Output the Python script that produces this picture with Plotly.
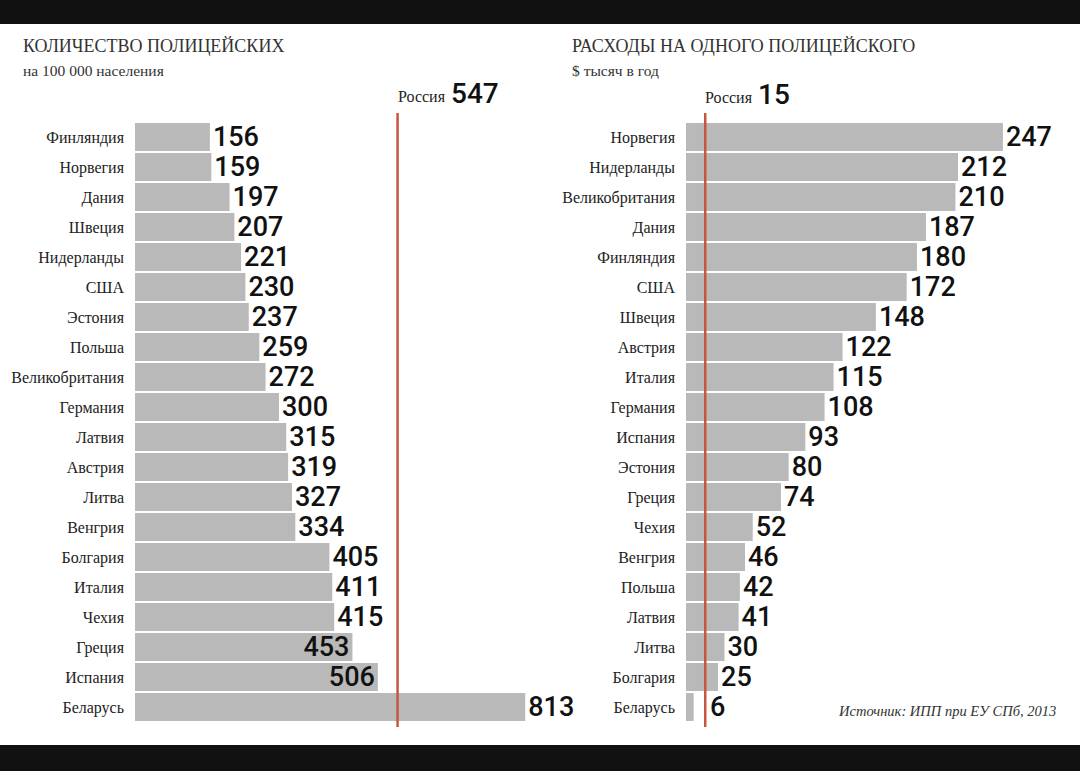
import plotly.graph_objects as go

# ---------------- data ----------------
left_countries = ["Финляндия", "Норвегия", "Дания", "Швеция", "Нидерланды", "США", "Эстония",
                  "Польша", "Великобритания", "Германия", "Латвия", "Австрия", "Литва", "Венгрия",
                  "Болгария", "Италия", "Чехия", "Греция", "Испания", "Беларусь"]
left_values = [156, 159, 197, 207, 221, 230, 237, 259, 272, 300, 315, 319, 327, 334,
               405, 411, 415, 453, 506, 813]

right_countries = ["Норвегия", "Нидерланды", "Великобритания", "Дания", "Финляндия", "США", "Швеция",
                   "Австрия", "Италия", "Германия", "Испания", "Эстония", "Греция", "Чехия",
                   "Венгрия", "Польша", "Латвия", "Литва", "Болгария", "Беларусь"]
right_values = [247, 212, 210, 187, 180, 172, 148, 122, 115, 108, 93, 80, 74, 52,
                46, 42, 41, 30, 25, 6]

russia_police = 547
russia_spend = 15

left_title = "КОЛИЧЕСТВО ПОЛИЦЕЙСКИХ"
left_sub = "на 100 000 населения"
right_title = "РАСХОДЫ НА ОДНОГО ПОЛИЦЕЙСКОГО"
right_sub = "$ тысяч в год"
russia_label = "Россия"
source = "Источник: ИПП при ЕУ СПб, 2013"

# ---------------- layout helpers ----------------
W, H = 1080, 771
def px(x):
    return x / W
def py(y):
    return 1 - y / H

BAR = "#b9b9b9"
RED = "#c8553d"
SERIF = "Liberation Serif"
NUM = "Roboto"

INSIDE_LEFT = {453, 506}

def positions(vals, inside_set):
    return ["inside" if v in inside_set else "outside" for v in vals]

def labels(vals, line_val=None):
    out = []
    for v in vals:
        s = str(v)
        if line_val is not None and v < line_val:
            s = "\u00a0\u00a0" + s  # push past the Russia line
        out.append(s)
    return out

fig = go.Figure()

fig.add_trace(go.Bar(
    y=left_countries, x=left_values, orientation="h",
    marker=dict(color=BAR, line=dict(width=0)),
    text=labels(left_values),
    textposition=positions(left_values, INSIDE_LEFT),
    insidetextanchor="end",
    constraintext="none",
    textfont=dict(family=NUM, size=27, color="#111", weight=500),
    cliponaxis=False, xaxis="x", yaxis="y", showlegend=False,
))
fig.add_trace(go.Bar(
    y=right_countries, x=right_values, orientation="h",
    marker=dict(color=BAR, line=dict(width=0)),
    text=labels(right_values, russia_spend),
    textposition="outside",
    constraintext="none",
    textfont=dict(family=NUM, size=27, color="#111", weight=500),
    cliponaxis=False, xaxis="x2", yaxis="y2", showlegend=False,
))

ydom = [py(722), py(122)]
axis_common = dict(showgrid=False, zeroline=False, showline=False, showticklabels=False, ticks="")
yaxis_common = dict(showgrid=False, zeroline=False, showline=False, ticks="",
                    autorange="reversed", domain=ydom,
                    tickfont=dict(family=SERIF, size=16, color="#222"),
                    ticklabelstandoff=10)

fig.update_layout(
    width=W, height=H,
    margin=dict(l=0, r=0, t=0, b=0),
    paper_bgcolor="white", plot_bgcolor="rgba(0,0,0,0)",
    bargap=0.07,
    hovermode=False,
    xaxis=dict(domain=[px(135), px(545)], range=[0, 410 / 0.48], anchor="y", **axis_common),
    yaxis=dict(anchor="x", **yaxis_common),
    xaxis2=dict(domain=[px(686), px(1040)], range=[0, 354 / 1.283], anchor="y2", **axis_common),
    yaxis2=dict(anchor="x2", **yaxis_common),
)

# red reference lines
fig.add_shape(type="line", xref="x", yref="paper", x0=russia_police, x1=russia_police,
              y0=py(727), y1=py(113), line=dict(color=RED, width=2.5))
fig.add_shape(type="line", xref="x2", yref="paper", x0=russia_spend, x1=russia_spend,
              y0=py(727), y1=py(113), line=dict(color=RED, width=2.5))

# black letterbox bands
fig.add_shape(type="rect", xref="paper", yref="paper", x0=0, x1=1, y0=py(24), y1=1,
              fillcolor="#111111", line=dict(width=0), layer="above")
fig.add_shape(type="rect", xref="paper", yref="paper", x0=0, x1=1, y0=0, y1=py(745),
              fillcolor="#111111", line=dict(width=0), layer="above")

ann = []
def text(x, y, t, size, family=SERIF, xanchor="left", color="#333", weight=None, italic=False):
    f = dict(family=family, size=size, color=color)
    if weight:
        f["weight"] = weight
    if italic:
        f["style"] = "italic"
    ann.append(dict(xref="paper", yref="paper", x=px(x), y=py(y), text=t, showarrow=False,
                    xanchor=xanchor, yanchor="middle", font=f))

text(21, 46, left_title, 18)
text(21, 70, left_sub, 15.5)
text(570, 46, right_title, 18)
text(570, 70, right_sub, 15.5)

text(396, 96, russia_label, 16, color="#222")
text(449, 93, str(russia_police), 28, family=NUM, color="#111", weight=500)
text(703, 97, russia_label, 16, color="#222")
text(756, 94, str(russia_spend), 28, family=NUM, color="#111", weight=500)

text(1058, 711, source, 14.5, xanchor="right", color="#333", italic=True)

fig.update_layout(annotations=ann)

fig.write_html(
    "out.html",
    config=dict(displayModeBar=False, staticPlot=True),
    post_script="document.body.style.margin='0px';document.body.style.overflow='hidden';",
)
